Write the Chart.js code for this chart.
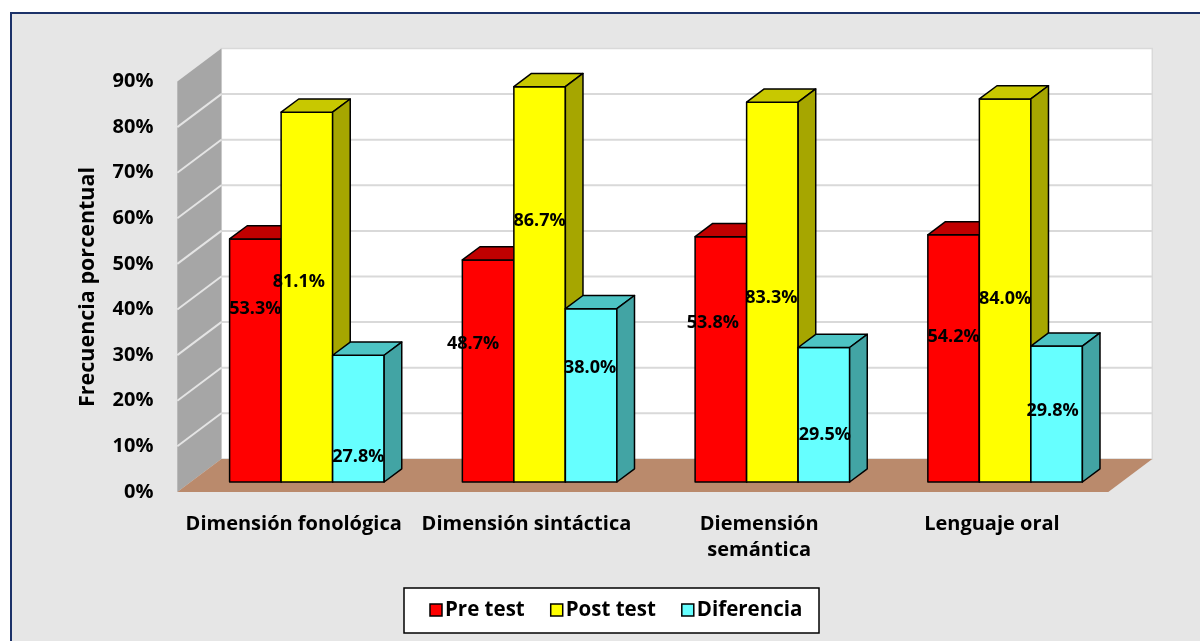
<!DOCTYPE html>
<html>
<head>
<meta charset="utf-8">
<script src="https://cdn.jsdelivr.net/npm/chart.js@4.4.1/dist/chart.umd.min.js"></script>
<style>
  html, body { margin: 0; padding: 0; background: #ffffff; }
  #wrap { width: 1200px; height: 641px; }
</style>
</head>
<body>
<div id="wrap"><canvas id="chart" width="1200" height="641"></canvas></div>
<script>
// chart data
const categories = ['Dimensión fonológica', 'Dimensión sintáctica', ['Diemensión', 'semántica'], 'Lenguaje oral'];
const seriesNames = ['Pre test', 'Post test', 'Diferencia'];
const preTest = [53.3, 48.7, 53.8, 54.2];
const postTest = [81.1, 86.7, 83.3, 84.0];
const diferencia = [27.8, 38.0, 29.5, 29.8];
const yTickLabels = ['0%', '10%', '20%', '30%', '40%', '50%', '60%', '70%', '80%', '90%'];
const yTitle = 'Frecuencia porcentual';

// where Excel left each data label (value-axis units)
const labelAtPre = [37.9, 30.3, 34.9, 31.8];
const labelAtPost = [43.9, 57.2, 40.4, 40.1];
const labelAtDif = [5.5, 25.0, 10.3, 15.6];
// small sideways nudges of those labels, px
const labelShift = [[0, -15, -8, 0], [-8, 0, -1, 0], [0, -1, 1, -4]];

const FONT = '"Open Sans", "Noto Sans", sans-serif';
const fronts = ['#ff0000', '#ffff00', '#66ffff'];
const tops = ['#c00000', '#c8c800', '#4dc4c4'];
const sides = ['#a00000', '#a6a600', '#42a4a4'];

// 3d geometry: full floor depth and where the bars sit inside it
const DEPTH_X = 44, DEPTH_Y = 33;
const OFF_X = DEPTH_X * 0.3, OFF_Y = DEPTH_Y * 0.3;
const BAR_DX = DEPTH_X * 0.4, BAR_DY = DEPTH_Y * 0.4;

function poly(ctx, pts, fill, stroke, lw) {
    ctx.beginPath();
    ctx.moveTo(pts[0][0], pts[0][1]);
    for (let i = 1; i < pts.length; i++) ctx.lineTo(pts[i][0], pts[i][1]);
    ctx.closePath();
    if (fill) { ctx.fillStyle = fill; ctx.fill(); }
    if (stroke) { ctx.strokeStyle = stroke; ctx.lineWidth = lw || 1; ctx.stroke(); }
}

const threeD = {
    id: 'threeD',
    beforeDraw(chart) {
        const { ctx, chartArea, scales: { y } } = chart;
        ctx.save();
        // chart frame
        ctx.fillStyle = '#ffffff';
        ctx.fillRect(0, 0, chart.width, chart.height);
        ctx.fillStyle = '#e6e6e6';
        ctx.fillRect(10, 12, chart.width, chart.height);
        ctx.strokeStyle = '#1c3269';
        ctx.lineWidth = 2;
        ctx.beginPath();
        ctx.moveTo(11, chart.height);
        ctx.lineTo(11, 13);
        ctx.lineTo(chart.width, 13);
        ctx.stroke();

        // front axis plane
        const fl = chartArea.left - OFF_X, fr = chartArea.right - OFF_X;
        const f0 = y.getPixelForValue(0) + OFF_Y, fTop = y.getPixelForValue(y.max) + OFF_Y;
        const bl = fl + DEPTH_X, br = fr + DEPTH_X;
        const b0 = f0 - DEPTH_Y, bTop = fTop - DEPTH_Y;

        // back wall
        poly(ctx, [[bl, bTop], [br, bTop], [br, b0], [bl, b0]], '#ffffff', '#d9d9d9', 1.5);
        // side wall
        poly(ctx, [[fl, fTop], [bl, bTop], [bl, b0], [fl, f0]], '#a6a6a6');
        // grid lines
        ctx.lineWidth = 2;
        for (let v = 10; v < y.max; v += 10) {
            const fy = y.getPixelForValue(v) + OFF_Y;
            ctx.strokeStyle = '#d9d9d9';
            ctx.beginPath();
            ctx.moveTo(bl, fy - DEPTH_Y);
            ctx.lineTo(br, fy - DEPTH_Y);
            ctx.stroke();
            ctx.strokeStyle = '#e4e4e4';
            ctx.beginPath();
            ctx.moveTo(fl, fy);
            ctx.lineTo(bl, fy - DEPTH_Y);
            ctx.stroke();
        }
        // floor
        poly(ctx, [[fl, f0], [fr, f0], [br, b0], [bl, b0]], '#ba8a6c');
        ctx.restore();
    },
    beforeDatasetsDraw(chart) {
        const { ctx } = chart;
        const metas = chart.data.datasets.map((d, i) => chart.getDatasetMeta(i));
        ctx.save();
        ctx.lineJoin = 'round';
        for (let c = 0; c < categories.length; c++) {
            metas.forEach((meta, d) => {
                const { x, y, base, width } = meta.data[c].getProps(['x', 'y', 'base', 'width'], true);
                const l = x - width / 2, r = x + width / 2;
                poly(ctx, [[l, y], [r, y], [r, base], [l, base]], fronts[d], '#000000', 1.5);
                poly(ctx, [[l, y], [l + BAR_DX, y - BAR_DY], [r + BAR_DX, y - BAR_DY], [r, y]], tops[d], '#000000', 1.5);
                poly(ctx, [[r, y], [r + BAR_DX, y - BAR_DY], [r + BAR_DX, base - BAR_DY], [r, base]], sides[d], '#000000', 1.5);
            });
        }
        ctx.restore();
        return false;
    },
    afterDraw(chart) {
        const { ctx, scales: { y } } = chart;
        const labelAt = [labelAtPre, labelAtPost, labelAtDif];
        ctx.save();
        // data labels
        ctx.font = 'bold 18px ' + FONT;
        ctx.fillStyle = '#000000';
        ctx.textAlign = 'center';
        ctx.textBaseline = 'middle';
        chart.data.datasets.forEach((ds, d) => {
            const meta = chart.getDatasetMeta(d);
            ds.data.forEach((v, c) => {
                ctx.fillText(v.toFixed(1) + '%', meta.data[c].x + labelShift[d][c], y.getPixelForValue(labelAt[d][c]));
            });
        });

        // axis title
        ctx.save();
        ctx.font = 'bold 21.5px ' + FONT;
        ctx.translate(88, 287);
        ctx.rotate(-Math.PI / 2);
        ctx.fillText(yTitle, 0, 0);
        ctx.restore();

        // legend
        ctx.font = 'bold 20.5px ' + FONT;
        ctx.fillStyle = '#ffffff';
        ctx.fillRect(404, 588, 415, 45);
        ctx.strokeStyle = '#000000';
        ctx.lineWidth = 1.5;
        ctx.strokeRect(404, 588, 415, 45);
        ctx.textAlign = 'left';
        let lx = 430;
        chart.data.datasets.forEach((ds, d) => {
            ctx.fillStyle = fronts[d];
            ctx.fillRect(lx, 604, 12, 12);
            ctx.strokeStyle = '#000000';
            ctx.lineWidth = 1.5;
            ctx.strokeRect(lx, 604, 12, 12);
            ctx.fillStyle = '#000000';
            ctx.fillText(ds.label, lx + 15, 610);
            lx += 15 + ctx.measureText(ds.label).width + 26;
        });
        ctx.restore();
    }
};

new Chart(document.getElementById('chart').getContext('2d'), {
    type: 'bar',
    data: {
        labels: categories,
        datasets: [
            { label: seriesNames[0], data: preTest, backgroundColor: fronts[0] },
            { label: seriesNames[1], data: postTest, backgroundColor: fronts[1] },
            { label: seriesNames[2], data: diferencia, backgroundColor: fronts[2] }
        ]
    },
    options: {
        responsive: false,
        animation: false,
        categoryPercentage: 0.664,
        barPercentage: 1,
        layout: {
            padding: { top: 71.6, right: 78.5, bottom: 0, left: 0 }
        },
        plugins: {
            legend: { display: false },
            tooltip: { enabled: false }
        },
        scales: {
            x: {
                grid: { display: false, drawTicks: false },
                border: { display: false },
                ticks: {
                    color: '#000000',
                    font: { family: FONT, size: 20, weight: 'bold', lineHeight: 1.3 },
                    padding: 29,
                    labelOffset: -OFF_X,
                    maxRotation: 0,
                    autoSkip: false
                },
                afterFit: s => { s.height = 159; }
            },
            y: {
                min: 0,
                max: 90,
                grid: { display: false, drawTicks: false },
                border: { display: false },
                ticks: {
                    stepSize: 10,
                    color: '#000000',
                    font: { family: FONT, size: 20, weight: 'bold' },
                    padding: 37,
                    labelOffset: OFF_Y,
                    callback: (v, i) => yTickLabels[i]
                },
                afterFit: s => { s.width = 190.5; }
            }
        }
    },
    plugins: [threeD]
});
</script>
</body>
</html>
